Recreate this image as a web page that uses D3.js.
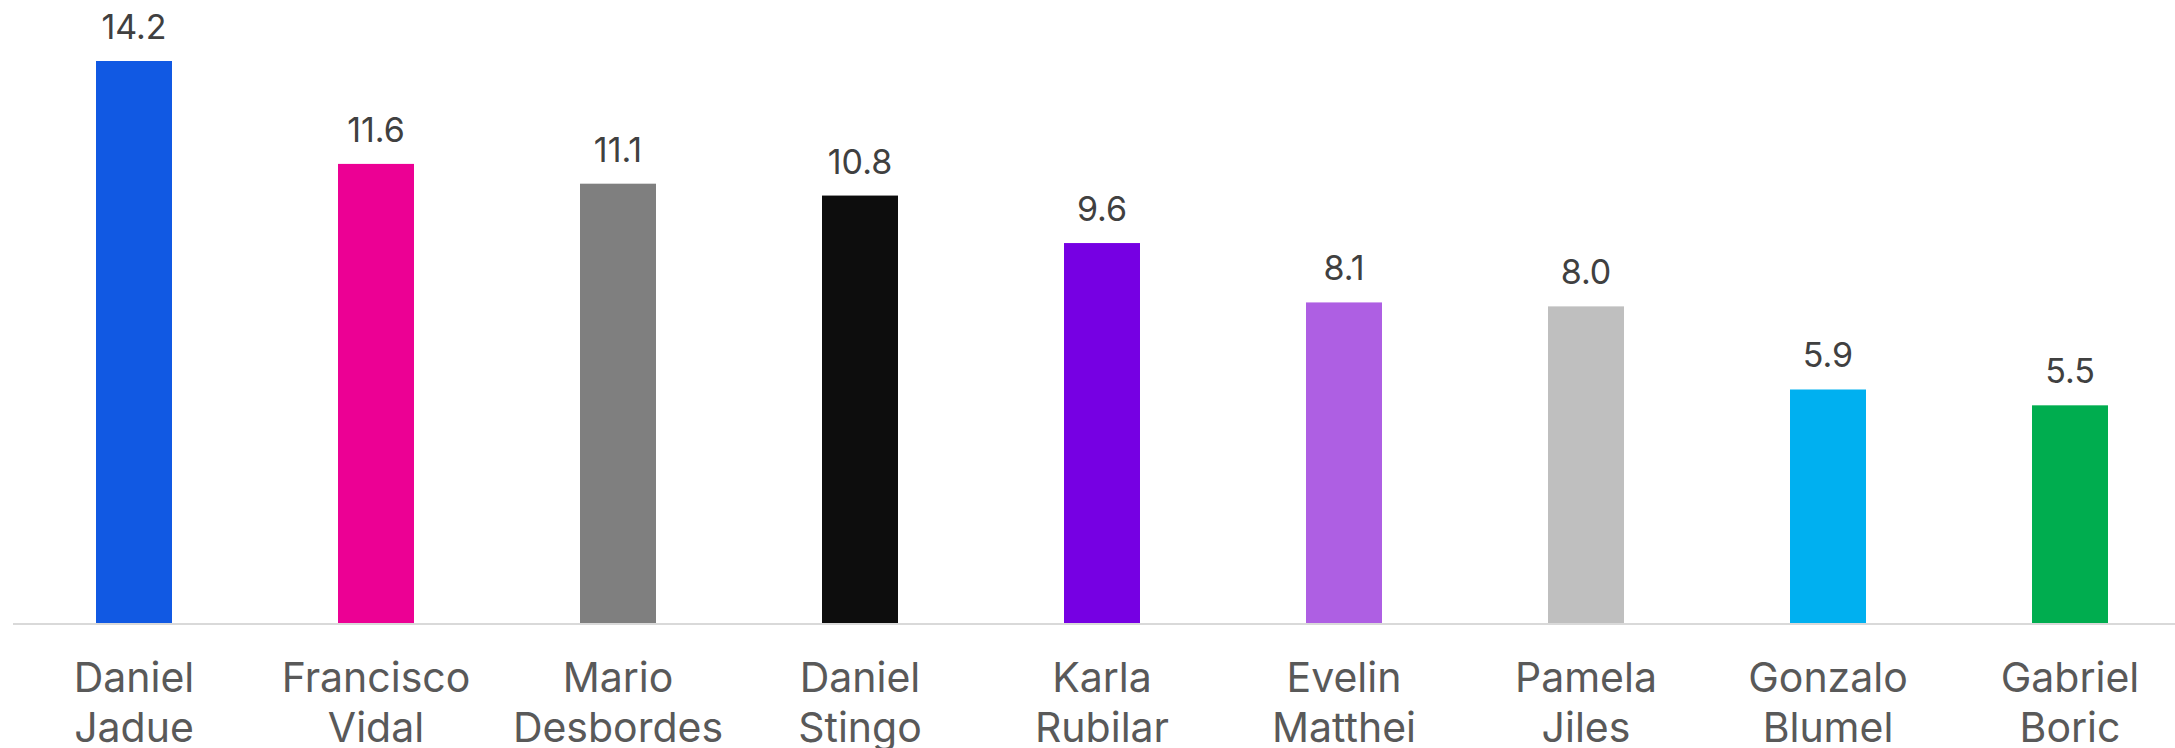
<!DOCTYPE html>
<html>
<head>
<meta charset="utf-8">
<script src="https://cdn.jsdelivr.net/npm/d3@7"></script>
<style>
  html, body { margin: 0; padding: 0; background: #ffffff; }
  svg { display: block; }
</style>
</head>
<body>
<svg id="chart" width="2175" height="748"></svg>
<script>
const firstNames = ["Daniel", "Francisco", "Mario", "Daniel", "Karla", "Evelin", "Pamela", "Gonzalo", "Gabriel"];
const lastNames  = ["Jadue", "Vidal", "Desbordes", "Stingo", "Rubilar", "Matthei", "Jiles", "Blumel", "Boric"];
const values     = [14.2, 11.6, 11.1, 10.8, 9.6, 8.1, 8.0, 5.9, 5.5];
const colors     = ["#1159E3", "#EC0094", "#7F7F7F", "#0D0D0D", "#7600E3", "#AE5FE3", "#BFBFBF", "#00B0F0", "#00AD4F"];

const svg = d3.select("#chart");
const W = 2175, H = 748;
const baseY = 623;
const font = "Inter, Roboto, 'Noto Sans', sans-serif";

const x = d3.scaleBand()
  .domain(d3.range(values.length))
  .range([13, 2191])
  .paddingInner(0.686)
  .paddingOuter(0.343);

const y = d3.scaleLinear()
  .domain([0, 14.2])
  .range([baseY, 61]);

// bars
svg.append("g").selectAll("rect")
  .data(values)
  .join("rect")
  .attr("x", (d, i) => x(i))
  .attr("width", x.bandwidth())
  .attr("y", d => y(d))
  .attr("height", d => y(0) - y(d))
  .attr("fill", (d, i) => colors[i]);

// baseline axis
const xAxis = d3.axisBottom(x).tickSize(0).tickFormat("");
const axisG = svg.append("g").attr("transform", `translate(0,${baseY + 1})`).call(xAxis);
axisG.select(".domain").attr("stroke", "#D9D9D9").attr("stroke-width", 2)
  .attr("d", `M13,0H${W}`);

// value labels
svg.append("g").selectAll("text")
  .data(values)
  .join("text")
  .attr("x", (d, i) => x(i) + x.bandwidth() / 2)
  .attr("y", d => y(d) - 22)
  .attr("text-anchor", "middle")
  .attr("font-family", font)
  .attr("font-size", 34)
  .attr("fill", "#404040")
  .text(d => d.toFixed(1));

// category labels
const cat = svg.append("g").selectAll("text")
  .data(values)
  .join("text")
  .attr("x", (d, i) => x(i) + x.bandwidth() / 2)
  .attr("y", 692)
  .attr("text-anchor", "middle")
  .attr("font-family", font)
  .attr("font-size", 41)
  .attr("fill", "#595959");
cat.append("tspan")
  .attr("x", (d, i) => x(i) + x.bandwidth() / 2)
  .text((d, i) => firstNames[i]);
cat.append("tspan")
  .attr("x", (d, i) => x(i) + x.bandwidth() / 2)
  .attr("dy", 50)
  .text((d, i) => lastNames[i]);
</script>
</body>
</html>
